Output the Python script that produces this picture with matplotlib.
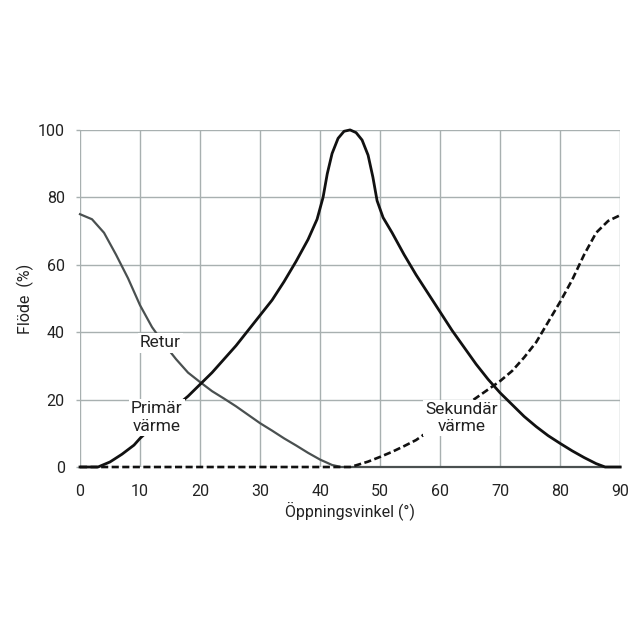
import matplotlib
matplotlib.use("Agg")
import matplotlib.pyplot as plt

retur_x = [0, 2, 4, 6, 8, 10, 12, 14, 16, 18, 20, 22, 24, 26, 28, 30, 32, 34, 36, 38, 40, 42, 43.5, 90]
retur_y = [75, 73.5, 69.5, 63, 56, 48, 41.5, 36.5, 32, 28, 25.2, 22.5, 20.3, 18, 15.5, 13, 10.8, 8.5, 6.4, 4.2, 2.2, 0.6, 0, 0]

prim_x = [0, 3, 5, 7, 9, 10, 12, 14, 16, 18, 20, 22, 24, 26, 28, 30, 32, 34, 36, 38, 39.5, 40.5, 41.2, 42, 43, 44, 45,
          46, 47, 48, 48.8, 49.5, 50.5, 52, 54, 56, 58, 60, 62, 64, 66, 68, 70, 72, 74, 76, 78, 80, 82, 84, 86, 87.5, 90]
prim_y = [0, 0, 1.5, 3.8, 6.5, 8.5, 11.8, 15, 18, 21, 24.5, 28, 32, 36, 40.5, 45, 49.5, 55, 61, 67.5, 73.5, 80, 87, 93, 97.5, 99.6, 100,
          99.2, 97, 92.5, 86, 79, 74, 69.5, 63, 57, 51.5, 46, 40.5, 35.5, 30.5, 26, 22, 18.5, 15, 12, 9.3, 7, 4.8, 2.8, 1, 0, 0]

sek_x = [0, 45, 46, 48, 50, 52, 54, 56, 58, 60, 62, 64, 66, 68, 70, 72, 74, 76, 78, 80, 82, 84, 86, 88, 90]
sek_y = [0, 0, 0.5, 1.6, 3, 4.5, 6.2, 8, 10.5, 13, 15.5, 18, 20.5, 23, 25.5, 28.5, 32.5, 37, 43, 49, 55.5, 63, 69.5, 73, 74.7]

x_ticks = [0, 10, 20, 30, 40, 50, 60, 70, 80, 90]
y_ticks = [0, 20, 40, 60, 80, 100]

plt.rcParams['font.family'] = ['Roboto', 'DejaVu Sans']

fig = plt.figure(figsize=(6.4, 6.4), dpi=100)
ax = fig.add_axes([0.125, 0.2703, 0.844, 0.5267])

ax.plot(retur_x, retur_y, color='#4a5050', lw=1.6, zorder=3, clip_on=False)
ax.plot(sek_x, sek_y, color='#111111', lw=1.9, ls=(0, (2.7, 1.3)), zorder=4, clip_on=False)
ax.plot(prim_x, prim_y, color='#111111', lw=2.0, zorder=5, clip_on=False)

bb = dict(facecolor='white', edgecolor='none', pad=1.5)
ax.text(13.4, 36.8, 'Retur', ha='center', va='center', fontsize=12.5, color='#222222', bbox=bb, zorder=6)
ax.text(12.8, 14.7, 'Primär\nvärme', ha='center', va='center', fontsize=12.5, color='#222222',
        linespacing=1.2, bbox=bb, zorder=6)
ax.text(63.6, 14.6, 'Sekundär\nvärme', ha='center', va='center', fontsize=12.5, color='#222222',
        linespacing=1.2, bbox=bb, zorder=6)

ax.set_xlim(0, 90)
ax.set_ylim(0, 100)
ax.set_xticks(x_ticks)
ax.set_yticks(y_ticks)
ax.grid(True, color='#a8b0b0', lw=1.0, zorder=0)
ax.set_axisbelow(True)
for s in ax.spines.values():
    s.set_visible(False)
ax.tick_params(axis='x', length=0, pad=12, labelsize=11.5, colors='#222222')
ax.tick_params(axis='y', length=3, width=1, color='#a8b0b0', pad=8, labelsize=11.5, labelcolor='#222222')
ax.set_xlabel('Öppningsvinkel (°)', fontsize=11.5, color='#222222', labelpad=2)
ax.set_ylabel('Flöde  (%)', fontsize=11.5, color='#222222', labelpad=3)

fig.savefig('out.png', dpi=100)
